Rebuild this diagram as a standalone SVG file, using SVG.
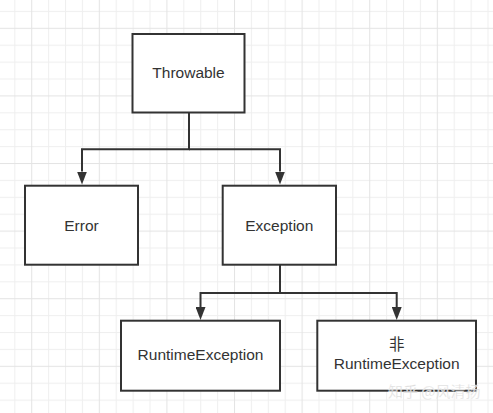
<svg xmlns="http://www.w3.org/2000/svg" width="493" height="413" viewBox="0 0 493 413">
<defs>
<style>
.box{fill:#ffffff;stroke:#333333;stroke-width:2}
.lbl{font-family:"Liberation Sans",Arial,"Noto Sans CJK SC",sans-serif;font-size:15.5px;fill:#333333;text-anchor:middle}
.conn{fill:none;stroke:#333333;stroke-width:2}
.wm{font-family:"Noto Sans CJK SC","Liberation Sans",sans-serif;font-size:15px;fill:#cfcfcf;fill-opacity:0.8;stroke:#ffffff;stroke-width:0.6;stroke-opacity:0.6}
</style>
<pattern id="grid" patternUnits="userSpaceOnUse" x="31.2" y="27.8" width="67.6" height="67.6">
<rect x="0" y="0" width="67.6" height="67.6" fill="#ffffff"/>
<rect x="16.9" y="0" width="1" height="67.6" fill="#efefef"/>
<rect x="33.8" y="0" width="1" height="67.6" fill="#efefef"/>
<rect x="50.7" y="0" width="1" height="67.6" fill="#efefef"/>
<rect x="0" y="16.9" width="67.6" height="1" fill="#efefef"/>
<rect x="0" y="33.8" width="67.6" height="1" fill="#efefef"/>
<rect x="0" y="50.7" width="67.6" height="1" fill="#efefef"/>
<rect x="0" y="0" width="1" height="67.6" fill="#e4e4e4"/>
<rect x="0" y="0" width="67.6" height="1" fill="#e4e4e4"/>
</pattern>
<marker id="arrow" markerUnits="userSpaceOnUse" markerWidth="13" markerHeight="10" refX="0" refY="5" orient="auto">
<path d="M0,0 L13,5 L0,10 z" fill="#333333"/>
</marker>
</defs>
<rect x="0" y="0" width="493" height="413" fill="url(#grid)"/>
<g id="connectors">
<path class="conn" d="M189,113 V149.3 H82 V171.5" marker-end="url(#arrow)"/>
<path class="conn" d="M189,149.3 H280 V171.5" marker-end="url(#arrow)"/>
<path class="conn" d="M280,265 V293 H200.5 V307" marker-end="url(#arrow)"/>
<path class="conn" d="M280,293 H396.7 V307" marker-end="url(#arrow)"/>
</g>
<g id="throwable">
<rect class="box" x="132.5" y="34" width="112" height="78.5"/>
<text class="lbl" x="188.5" y="78.3">Throwable</text>
</g>
<g id="error">
<rect class="box" x="25" y="185.7" width="113" height="79"/>
<text class="lbl" x="81.5" y="230.7">Error</text>
</g>
<g id="exception">
<rect class="box" x="222.7" y="185.7" width="113.3" height="79"/>
<text class="lbl" x="279.3" y="230.5">Exception</text>
</g>
<g id="runtime">
<rect class="box" x="121" y="320.7" width="159" height="70"/>
<text class="lbl" x="200.5" y="360">RuntimeException</text>
</g>
<g id="non-runtime">
<rect class="box" x="317.3" y="320.7" width="158.7" height="70"/>
<text class="lbl" x="396.7" y="350">非</text>
<text class="lbl" x="396.7" y="369">RuntimeException</text>
</g>
<text class="wm" x="388" y="397">知乎 @风清扬</text>
</svg>
